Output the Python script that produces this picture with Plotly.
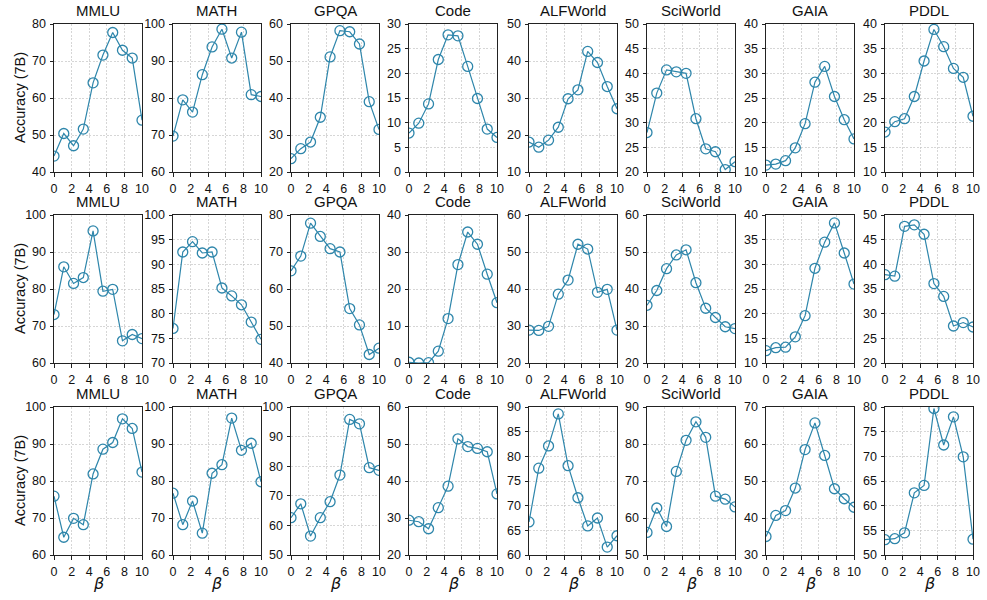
import plotly.graph_objects as go

BETA = [0, 1.11, 2.22, 3.33, 4.44, 5.56, 6.67, 7.78, 8.89, 10]
BENCHMARKS = ["MMLU", "MATH", "GPQA", "Code", "ALFWorld", "SciWorld", "GAIA", "PDDL"]
X_TICKS = [0, 2, 4, 6, 8, 10]

# Row 1
r1_mmlu = [44.3, 50.4, 47.1, 51.6, 64.1, 71.6, 77.7, 72.9, 70.8, 54.0]
r1_math = [69.7, 79.5, 76.2, 86.3, 93.8, 98.6, 90.8, 97.8, 80.9, 80.4]
r1_gpqa = [23.6, 26.3, 28.1, 34.8, 51.1, 58.2, 57.9, 54.6, 39.0, 31.5]
r1_code = [7.9, 9.9, 13.8, 22.8, 27.8, 27.6, 21.4, 14.9, 8.7, 7.0]
r1_alf = [18.1, 16.7, 18.6, 22.1, 29.8, 32.2, 42.6, 39.6, 33.1, 27.1]
r1_sci = [28.0, 36.0, 40.7, 40.3, 40.0, 30.8, 24.7, 24.1, 20.5, 22.1]
r1_gaia = [11.4, 11.6, 12.3, 14.9, 19.8, 28.2, 31.4, 25.3, 20.6, 16.7]
r1_pddl = [18.1, 20.2, 20.8, 25.3, 32.5, 38.9, 35.4, 31.0, 29.2, 21.3]

# Row 2
r2_mmlu = [73.1, 86.0, 81.5, 83.1, 95.7, 79.4, 79.9, 66.0, 67.7, 66.6]
r2_math = [77.0, 92.5, 94.6, 92.3, 92.5, 85.2, 83.6, 81.8, 78.3, 74.8]
r2_gpqa = [64.9, 68.9, 77.8, 74.2, 70.9, 70.0, 54.7, 50.3, 42.3, 44.0]
r2_code = [0.2, 0.0, 0.1, 3.2, 12.0, 26.6, 35.4, 32.1, 24.0, 16.3]
r2_alf = [28.9, 28.8, 29.9, 38.6, 42.4, 52.1, 50.8, 39.1, 39.9, 28.9]
r2_sci = [35.6, 39.6, 45.5, 49.2, 50.6, 41.7, 34.8, 32.3, 29.8, 29.3]
r2_gaia = [12.5, 13.1, 13.2, 15.3, 19.6, 29.2, 34.5, 38.4, 32.3, 26.0]
r2_pddl = [37.9, 37.6, 47.7, 48.0, 46.1, 36.1, 33.5, 27.5, 28.2, 27.3]

# Row 3
r3_mmlu = [75.9, 64.8, 69.9, 68.2, 81.9, 88.6, 90.4, 96.8, 94.2, 82.4]
r3_math = [76.7, 68.2, 74.6, 65.9, 82.1, 84.4, 97.0, 88.3, 90.2, 79.8]
r3_gpqa = [62.6, 67.3, 56.4, 62.6, 68.0, 77.0, 95.8, 94.3, 79.5, 78.6]
r3_code = [29.4, 29.0, 27.1, 32.8, 38.6, 51.4, 49.3, 48.8, 47.9, 36.5]
r3_alf = [66.7, 77.6, 82.1, 88.6, 78.1, 71.6, 65.9, 67.5, 61.6, 63.9]
r3_sci = [56.1, 62.7, 57.7, 72.6, 81.0, 86.0, 81.8, 65.9, 65.1, 63.0]
r3_gaia = [35.0, 40.7, 42.0, 48.1, 58.5, 65.7, 56.9, 47.9, 45.2, 42.9]
r3_pddl = [53.1, 53.3, 54.5, 62.6, 64.1, 79.7, 72.3, 78.0, 69.9, 53.2]

ROWS = [
    [r1_mmlu, r1_math, r1_gpqa, r1_code, r1_alf, r1_sci, r1_gaia, r1_pddl],
    [r2_mmlu, r2_math, r2_gpqa, r2_code, r2_alf, r2_sci, r2_gaia, r2_pddl],
    [r3_mmlu, r3_math, r3_gpqa, r3_code, r3_alf, r3_sci, r3_gaia, r3_pddl],
]

# y-axis ranges and tick steps per panel
Y_RANGES = [
    [(40, 80, 10), (60, 100, 10), (20, 60, 10), (0, 30, 5), (10, 50, 10), (20, 50, 5), (10, 40, 5), (10, 40, 5)],
    [(60, 100, 10), (70, 100, 5), (40, 80, 10), (0, 40, 10), (20, 60, 10), (20, 60, 10), (10, 40, 5), (20, 50, 5)],
    [(60, 100, 10), (60, 100, 10), (50, 100, 10), (20, 60, 10), (60, 90, 5), (50, 90, 10), (30, 70, 10), (50, 80, 5)],
]

W, H = 987, 600
LEFTS = [54, 173, 291, 409, 529, 647, 766, 885]
PW = 88
TOPS = [24, 215, 407]
PH = 148

COLOR = "#2E86AB"
FONT = "Liberation Sans, Arial, sans-serif"

fig = go.Figure()
annotations = []
n = 0
for r in range(3):
    for c in range(8):
        n += 1
        sfx = "" if n == 1 else str(n)
        x0 = LEFTS[c] / W
        x1 = (LEFTS[c] + PW) / W
        y1 = 1 - TOPS[r] / H
        y0 = 1 - (TOPS[r] + PH) / H
        lo, hi, step = Y_RANGES[r][c]
        fig.add_trace(go.Scatter(
            x=BETA, y=ROWS[r][c], mode="lines+markers",
            xaxis="x" + sfx, yaxis="y" + sfx,
            line=dict(color=COLOR, width=1.2),
            marker=dict(symbol="circle-open", size=10, color=COLOR, line=dict(width=1.3, color=COLOR)),
            showlegend=False, hoverinfo="skip",
        ))
        common = dict(
            showline=True, mirror=True, linecolor="#222", linewidth=1,
            ticks="outside", ticklen=3.5, tickwidth=1, tickcolor="#222",
            showgrid=True, gridcolor="#c4c4c4", gridwidth=0.7, griddash="2px,1.5px",
            zeroline=False, automargin=False,
            tickfont=dict(family=FONT, size=12.5, color="#111"),
        )
        fig.update_layout(**{
            "xaxis" + sfx: dict(domain=[x0, x1], range=[0, 10], tickvals=X_TICKS,
                                anchor="y" + sfx, ticklabelstandoff=1, **common),
            "yaxis" + sfx: dict(domain=[y0, y1], range=[lo, hi], dtick=step, tick0=lo,
                                anchor="x" + sfx, ticklabelstandoff=1, **common),
        })
        annotations.append(dict(
            text=BENCHMARKS[c], xref="paper", yref="paper",
            x=(x0 + x1) / 2, y=y1 + 4 / H, xanchor="center", yanchor="bottom",
            borderpad=0, showarrow=False, font=dict(family=FONT, size=15, color="#111"),
        ))
        if r == 2:
            annotations.append(dict(
                text="β", xref="paper", yref="paper",
                x=(x0 + x1) / 2, y=1 - 583 / H, xanchor="center", yanchor="middle",
                showarrow=False, font=dict(family="DejaVu Sans", size=16, color="#111", style="italic"),
            ))
    annotations.append(dict(
        text="Accuracy (7B)", xref="paper", yref="paper",
        x=20 / W, y=1 - (TOPS[r] + PH / 2) / H, xanchor="center", yanchor="middle",
        textangle=-90, showarrow=False, font=dict(family=FONT, size=14.5, color="#111"),
    ))

fig.update_layout(
    width=W, height=H, autosize=False,
    margin=dict(l=0, r=0, t=0, b=0, autoexpand=False),
    paper_bgcolor="white", plot_bgcolor="white",
    annotations=annotations,
)

fig.write_html(
    "out.html",
    config={"displayModeBar": False, "staticPlot": True},
    post_script="document.body.style.margin='0';document.body.style.overflow='hidden';",
)
